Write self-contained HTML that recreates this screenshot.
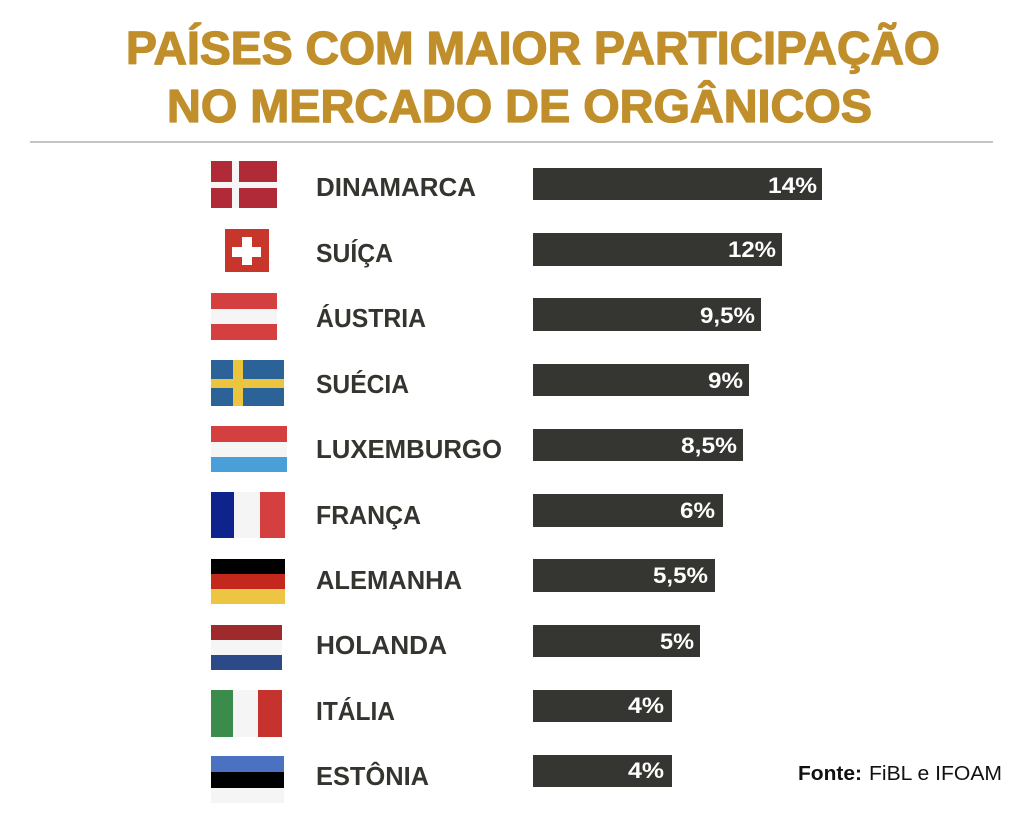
<!DOCTYPE html>
<html><head><meta charset="utf-8"><style>
html,body{margin:0;padding:0;background:#fff;}
svg{display:block;}
</style></head><body>
<svg width="1024" height="820" viewBox="0 0 1024 820" xmlns="http://www.w3.org/2000/svg" font-family="Liberation Sans, sans-serif">
<rect width="1024" height="820" fill="#fff"/>
<!-- Title -->
<g fill="#c08f2b" stroke="#c08f2b" stroke-width="1.3" stroke-linejoin="round" font-weight="bold" font-size="46">
<text x="126" y="64" textLength="814" lengthAdjust="spacingAndGlyphs">PAÍSES COM MAIOR PARTICIPAÇÃO</text>
<text x="167" y="122" textLength="705" lengthAdjust="spacingAndGlyphs">NO MERCADO DE ORGÂNICOS</text>
</g>
<rect x="30" y="141" width="963" height="2" fill="#c4c4c4"/>

<!-- Flags -->
<!-- Denmark -->
<rect x="211" y="161" width="66" height="47" fill="#b02a37"/>
<rect x="232" y="161" width="7" height="47" fill="#f5f5f5"/>
<rect x="211" y="182" width="66" height="6" fill="#f5f5f5"/>
<!-- Switzerland -->
<rect x="225" y="229" width="44" height="43" fill="#c8352b"/>
<rect x="242" y="237" width="10" height="28" fill="#fff"/>
<rect x="232" y="247" width="29" height="10" fill="#fff"/>
<!-- Austria -->
<rect x="211" y="293" width="66" height="16" fill="#d43f3f"/>
<rect x="211" y="309" width="66" height="15" fill="#f5f5f5"/>
<rect x="211" y="324" width="66" height="16" fill="#d43f3f"/>
<!-- Sweden -->
<rect x="211" y="360" width="73" height="46" fill="#2b6399"/>
<rect x="233" y="360" width="10" height="46" fill="#ecc53f"/>
<rect x="211" y="379" width="73" height="9" fill="#ecc53f"/>
<!-- Luxembourg -->
<rect x="211" y="426" width="76" height="16" fill="#d43f3f"/>
<rect x="211" y="442" width="76" height="15" fill="#f5f5f5"/>
<rect x="211" y="457" width="76" height="15" fill="#4a9fd8"/>
<!-- France -->
<rect x="211" y="492" width="23" height="46" fill="#0f238c"/>
<rect x="234" y="492" width="26" height="46" fill="#f5f5f5"/>
<rect x="260" y="492" width="25" height="46" fill="#d43f3f"/>
<!-- Germany -->
<rect x="211" y="559" width="74" height="15" fill="#000"/>
<rect x="211" y="574" width="74" height="15" fill="#c4281c"/>
<rect x="211" y="589" width="74" height="15" fill="#eec543"/>
<!-- Netherlands -->
<rect x="211" y="625" width="71" height="15" fill="#9e2a2b"/>
<rect x="211" y="640" width="71" height="15" fill="#f5f5f5"/>
<rect x="211" y="655" width="71" height="15" fill="#2c4a87"/>
<!-- Italy -->
<rect x="211" y="690" width="22" height="47" fill="#3b8c4a"/>
<rect x="233" y="690" width="25" height="47" fill="#f5f5f5"/>
<rect x="258" y="690" width="24" height="47" fill="#c6332f"/>
<!-- Estonia -->
<rect x="211" y="756" width="73" height="16" fill="#4a72c0"/>
<rect x="211" y="772" width="73" height="16" fill="#000"/>
<rect x="211" y="788" width="73" height="15" fill="#f5f5f5"/>

<!-- Labels -->
<g fill="#35352f" font-weight="bold" font-size="26">
<text x="316" y="196" textLength="160" lengthAdjust="spacingAndGlyphs">DINAMARCA</text>
<text x="316" y="262" textLength="77" lengthAdjust="spacingAndGlyphs">SUÍÇA</text>
<text x="316" y="327" textLength="110" lengthAdjust="spacingAndGlyphs">ÁUSTRIA</text>
<text x="316" y="393" textLength="93" lengthAdjust="spacingAndGlyphs">SUÉCIA</text>
<text x="316" y="458" textLength="186" lengthAdjust="spacingAndGlyphs">LUXEMBURGO</text>
<text x="316" y="524" textLength="105" lengthAdjust="spacingAndGlyphs">FRANÇA</text>
<text x="316" y="589" textLength="146" lengthAdjust="spacingAndGlyphs">ALEMANHA</text>
<text x="316" y="654" textLength="131" lengthAdjust="spacingAndGlyphs">HOLANDA</text>
<text x="316" y="720" textLength="79" lengthAdjust="spacingAndGlyphs">ITÁLIA</text>
<text x="316" y="785" textLength="113" lengthAdjust="spacingAndGlyphs">ESTÔNIA</text>
</g>

<!-- Bars -->
<g fill="#353531">
<rect x="533" y="168" width="289" height="32"/>
<rect x="533" y="233" width="249" height="33"/>
<rect x="533" y="298" width="228" height="33"/>
<rect x="533" y="364" width="216" height="32"/>
<rect x="533" y="429" width="210" height="32"/>
<rect x="533" y="494" width="190" height="33"/>
<rect x="533" y="559" width="182" height="33"/>
<rect x="533" y="625" width="167" height="32"/>
<rect x="533" y="690" width="139" height="32"/>
<rect x="533" y="755" width="139" height="32"/>
</g>

<!-- Values -->
<g fill="#fff" font-weight="bold" font-size="22">
<text x="768" y="193" textLength="49" lengthAdjust="spacingAndGlyphs">14%</text>
<text x="728" y="257" textLength="48" lengthAdjust="spacingAndGlyphs">12%</text>
<text x="700" y="323" textLength="55" lengthAdjust="spacingAndGlyphs">9,5%</text>
<text x="708" y="388" textLength="35" lengthAdjust="spacingAndGlyphs">9%</text>
<text x="681" y="453" textLength="56" lengthAdjust="spacingAndGlyphs">8,5%</text>
<text x="680" y="518" textLength="35" lengthAdjust="spacingAndGlyphs">6%</text>
<text x="653" y="583" textLength="55" lengthAdjust="spacingAndGlyphs">5,5%</text>
<text x="660" y="649" textLength="34" lengthAdjust="spacingAndGlyphs">5%</text>
<text x="628" y="713" textLength="36" lengthAdjust="spacingAndGlyphs">4%</text>
<text x="628" y="778" textLength="36" lengthAdjust="spacingAndGlyphs">4%</text>
</g>

<!-- Source -->
<text x="798" y="780" font-size="20" font-weight="bold" fill="#111" textLength="64" lengthAdjust="spacingAndGlyphs">Fonte:</text>
<text x="869" y="780" font-size="20" fill="#111" textLength="133" lengthAdjust="spacingAndGlyphs">FiBL e IFOAM</text>
</svg>
</body></html>
